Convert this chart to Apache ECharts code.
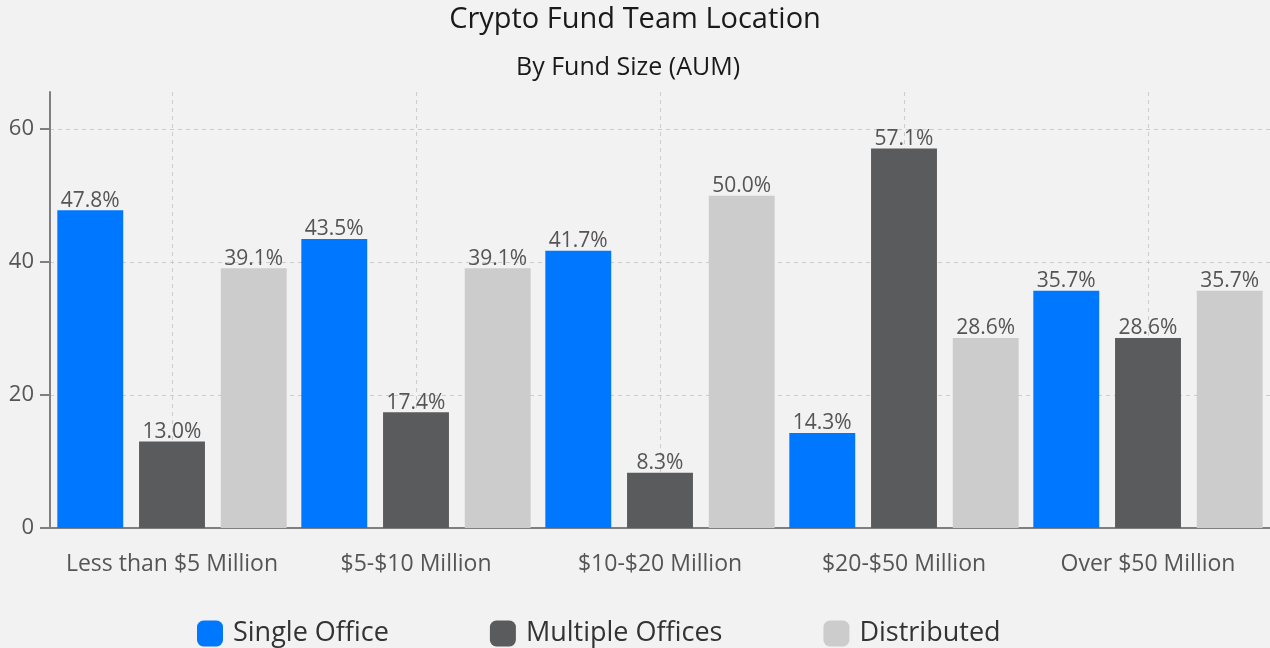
<!DOCTYPE html>
<html>
<head>
<meta charset="utf-8">
<script src="https://cdn.jsdelivr.net/npm/echarts@6/dist/echarts.min.js"></script>
<style>
    html, body { margin: 0; padding: 0; background: #f2f2f2; }
    #chart { width: 1270px; height: 648px; }
</style>
</head>
<body>
<div id="chart"></div>
<script>
    // fund size buckets
    var categories = ['Less than $5 Million', '$5-$10 Million', '$10-$20 Million', '$20-$50 Million', 'Over $50 Million'];
    var singleOffice = [47.8, 43.5, 41.7, 14.3, 35.7];
    var multipleOffices = [13.0, 17.4, 8.3, 57.1, 28.6];
    var distributed = [39.1, 39.1, 50.0, 28.6, 35.7];

    var font = '"Open Sans", "Noto Sans", sans-serif';

    function barSeries(name, data, color) {
        return {
            name: name,
            type: 'bar',
            data: data,
            itemStyle: { color: color },
            label: {
                show: true,
                position: 'top',
                distance: -1,
                color: '#555',
                fontSize: 21,
                fontFamily: font,
                formatter: function (p) { return p.value.toFixed(1) + '%'; }
            }
        };
    }

    var chart = echarts.init(document.getElementById('chart'));
    chart.setOption({
        backgroundColor: '#f2f2f2',
        animation: false,
        title: [{
            text: 'Crypto Fund Team Location',
            left: 'center',
            top: 0,
            textStyle: { fontFamily: font, fontSize: 29, fontWeight: 'normal', color: '#1a1a1a' }
        }, {
            text: 'By Fund Size (AUM)',
            left: 511,
            top: 50,
            textStyle: { fontFamily: font, fontSize: 25, fontWeight: 'normal', color: '#1a1a1a' }
        }],
        legend: {
            top: 615,
            left: 192,
            itemWidth: 26,
            itemHeight: 26,
            itemGap: 101,
            icon: 'roundRect',
            textStyle: { fontFamily: font, fontSize: 27, color: '#333', padding: [0, 0, 0, 5] }
        },
        grid: { left: 50, right: 0, top: 92, bottom: 120, containLabel: false },
        xAxis: {
            type: 'category',
            data: categories,
            axisLine: { lineStyle: { color: '#7f7f7f', width: 2 } },
            axisTick: { alignWithLabel: true, length: 10, lineStyle: { color: '#7f7f7f', width: 2 } },
            axisLabel: { interval: 0, fontFamily: font, fontSize: 23, color: '#555', margin: 25 },
            splitLine: { show: true, alignWithLabel: true, lineStyle: { color: '#ccc', type: [4, 4] } }
        },
        yAxis: {
            type: 'value',
            min: 0,
            max: 65.6,
            interval: 20,
            axisLine: { show: true, lineStyle: { color: '#7f7f7f', width: 2 } },
            axisTick: { show: true, length: 10, lineStyle: { color: '#7f7f7f', width: 2 } },
            axisLabel: { fontFamily: font, fontSize: 22, color: '#555', margin: 16, showMaxLabel: false },
            splitLine: { show: true, showMaxLine: false, lineStyle: { color: '#ccc', type: [4, 4] } }
        },
        series: [
            Object.assign(barSeries('Single Office', singleOffice, '#0077ff'), { barGap: '24%', barCategoryGap: '6%' }),
            barSeries('Multiple Offices', multipleOffices, '#5a5b5d'),
            barSeries('Distributed', distributed, '#cccccc')
        ]
    });
</script>
</body>
</html>
